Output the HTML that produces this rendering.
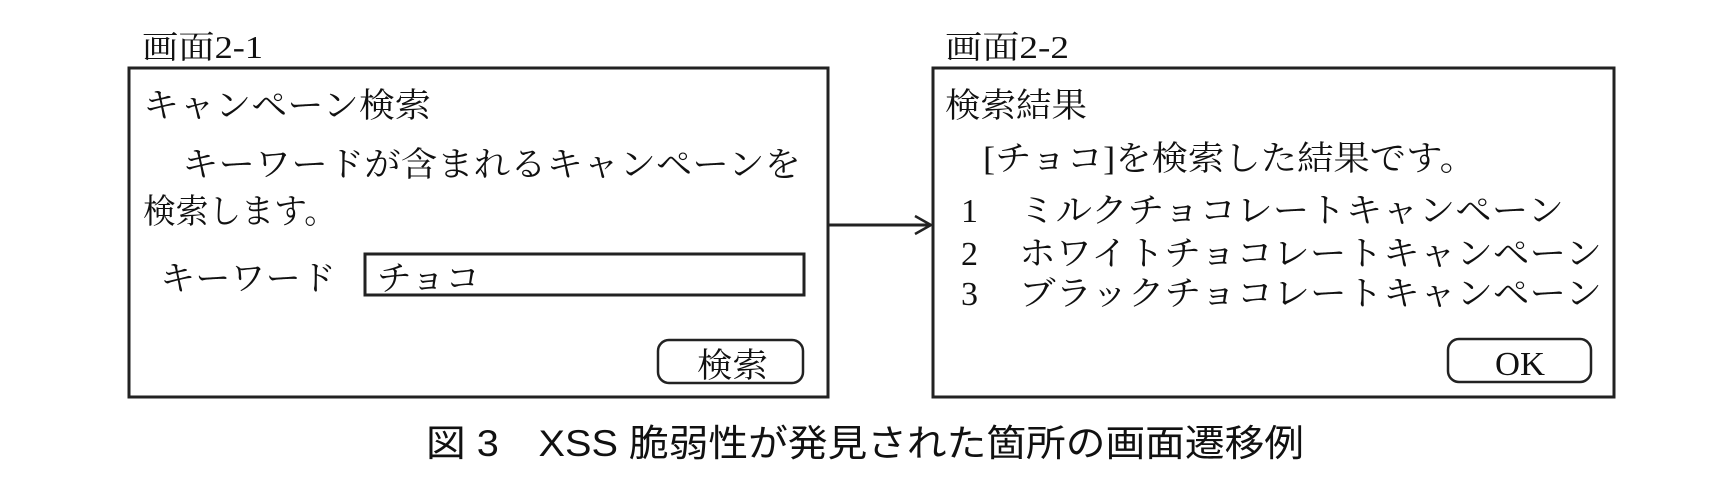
<!DOCTYPE html>
<html><head><meta charset="utf-8"><style>
html,body{margin:0;padding:0;background:#fff;}
svg{display:block;}
.m{font-family:"Liberation Serif","Noto Serif CJK SC",serif;fill:#111;}
.g{font-family:"Liberation Sans","Noto Sans CJK JP",sans-serif;fill:#111;}
</style></head><body>
<svg width="1720" height="492" viewBox="0 0 1720 492" xmlns="http://www.w3.org/2000/svg">
<g class="m" font-size="32">
<text x="142" y="58" textLength="121" lengthAdjust="spacingAndGlyphs">画面2-1</text>
<text x="945" y="58" textLength="124" lengthAdjust="spacingAndGlyphs">画面2-2</text>
</g>
<rect x="129" y="68" width="699" height="329" fill="none" stroke="#222" stroke-width="3"/>
<rect x="933" y="68" width="681" height="329" fill="none" stroke="#222" stroke-width="3"/>
<line x1="828" y1="225" x2="930" y2="225" stroke="#222" stroke-width="3"/>
<polyline points="915,216 931,225 915,234" fill="none" stroke="#222" stroke-width="2.5"/>
<g class="m" font-size="34">
<text x="143" y="117" textLength="288" lengthAdjust="spacingAndGlyphs">キャンペーン検索</text>
<text x="182" y="176" textLength="619" lengthAdjust="spacingAndGlyphs">キーワードが含まれるキャンペーンを</text>
<text x="143" y="223" textLength="194" lengthAdjust="spacingAndGlyphs">検索します。</text>
<text x="160" y="290" textLength="176" lengthAdjust="spacingAndGlyphs">キーワード</text>
<text x="377" y="290" textLength="103" lengthAdjust="spacingAndGlyphs">チョコ</text>
<text x="697" y="377" textLength="71" lengthAdjust="spacingAndGlyphs">検索</text>
<text x="945" y="117" textLength="142" lengthAdjust="spacingAndGlyphs">検索結果</text>
<text x="983" y="170" textLength="493" lengthAdjust="spacingAndGlyphs">[チョコ]を検索した結果です。</text>
<text x="961" y="222">1</text>
<text x="1019" y="222" textLength="545" lengthAdjust="spacingAndGlyphs">ミルクチョコレートキャンペーン</text>
<text x="961" y="265">2</text>
<text x="1019" y="265" textLength="583" lengthAdjust="spacingAndGlyphs">ホワイトチョコレートキャンペーン</text>
<text x="961" y="305">3</text>
<text x="1019" y="305" textLength="583" lengthAdjust="spacingAndGlyphs">ブラックチョコレートキャンペーン</text>
<text x="1495" y="375" textLength="50" lengthAdjust="spacingAndGlyphs">OK</text>
</g>
<rect x="365" y="254" width="439" height="41" fill="none" stroke="#222" stroke-width="3"/>
<rect x="658" y="340" width="145" height="43" rx="11" fill="none" stroke="#222" stroke-width="2.5"/>
<rect x="1448" y="339" width="143" height="43" rx="11" fill="none" stroke="#222" stroke-width="2.5"/>
<text class="g" font-size="37" x="426" y="456" textLength="878" lengthAdjust="spacingAndGlyphs">図 3　XSS 脆弱性が発見された箇所の画面遷移例</text>
</svg>
</body></html>
